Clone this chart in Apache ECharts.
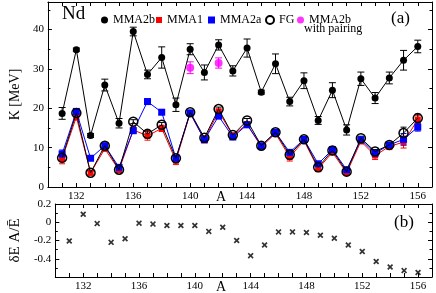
<!DOCTYPE html>
<html><head><meta charset="utf-8">
<script src="https://cdn.jsdelivr.net/npm/echarts@6/dist/echarts.min.js"></script>
<style>html,body{margin:0;padding:0;background:#fff}#c{width:436px;height:293px}</style>
</head><body><div id="c"></div>
<script>
const massA = [131,132,133,134,135,136,137,138,139,140,141,142,143,144,145,146,147,148,149,150,151,152,153,154,155,156];
const mma2b = [18.7,34.9,13.1,25.9,16.2,39.5,28.6,32.9,20.9,35.0,29.1,36.1,29.5,35.3,24.1,31.3,21.7,27.0,16.9,24.6,14.5,27.5,22.6,27.7,32.2,35.7];
const mma2bErr = [1.5,0.4,0.5,1.5,1.2,1.1,1.1,2.7,1.7,1.4,1.9,1.3,1.3,2.3,0.5,2.5,1.1,2.0,1.0,1.9,1.3,1.7,1.4,1.5,2.5,1.6];
const mma1 = [7.2,17.8,3.6,9.7,4.3,14.5,13.0,14.9,6.7,18.8,12.0,19.2,13.1,16.0,10.2,13.6,7.6,11.8,4.6,8.8,3.6,11.6,8.0,10.3,11.4,17.1];
const mma1Err = [1.3,0.8,0.5,0.5,0.6,0.7,1.1,0.8,1.0,0.5,0.8,0.6,0.5,0.6,0.6,0.5,1.0,0.6,0.7,0.6,0.6,0.6,1.0,0.8,1.5,1.0];
const mma2a = [8.4,19.2,7.3,10.5,5.0,14.3,21.7,19.0,7.3,18.8,12.0,18.0,12.7,15.8,10.5,13.9,8.8,12.1,5.9,9.5,4.4,12.0,8.6,10.7,12.1,15.2];
const mma2aErr = [1.0,0.5,0.5,0.5,0.5,0.5,0.7,0.6,0.5,0.5,0.5,0.5,0.5,0.5,0.5,0.5,0.5,0.5,0.5,0.5,0.5,0.5,0.8,0.5,1.5,1.0];
const fg = [7.4,18.8,3.6,10.5,4.4,16.6,13.5,15.8,7.3,19.0,12.5,19.8,13.2,16.9,10.5,13.9,8.2,12.1,5.0,9.3,3.9,12.4,9.0,10.7,13.7,17.5];
const fgErr = [0.5,0.5,0.5,0.5,0.5,0.5,0.8,0.6,0.5,0.5,0.5,0.5,0.5,0.5,0.5,0.5,0.5,0.5,0.5,0.5,0.5,0.5,0.5,0.5,1.5,1.0];
const pairA = [140,142];
const pairVals = [30.3,31.5];
const pairErr = [1.5,1.3];
const deltaE = [-0.205,0.088,-0.015,-0.22,-0.18,-0.01,-0.02,-0.035,-0.035,-0.035,-0.10,-0.055,-0.2,-0.366,-0.25,-0.106,-0.106,-0.113,-0.143,-0.176,-0.25,-0.32,-0.43,-0.49,-0.53,-0.55];
const xTicks = [132,136,140,144,148,152,156];
const kTicks = [0,10,20,30,40];
const dTicks = [0.2,0,-0.2,-0.4];

const FONT = 'Liberation Serif';
const chart = echarts.init(document.getElementById('c'), null, {renderer:'canvas'});

function pairs(xs, ys){ return xs.map((x,i)=>[x, ys[i]]); }
function triples(xs, ys, es){ return xs.map((x,i)=>[x, ys[i], es[i]]); }
function errSeries(xs, ys, es, color, hw){
  return {
    type:'custom', xAxisIndex:0, yAxisIndex:0, silent:true, z:1,
    data: triples(xs, ys, es),
    encode:{x:0, y:1},
    renderItem:function(params, api){
      const x = api.value(0), y = api.value(1), e = api.value(2);
      const t = api.coord([x, y+e]), b = api.coord([x, y-e]);
      const st = {stroke:color, lineWidth:1};
      return {type:'group', children:[
        {type:'line', shape:{x1:t[0],y1:t[1],x2:b[0],y2:b[1]}, style:st},
        {type:'line', shape:{x1:t[0]-hw,y1:t[1],x2:t[0]+hw,y2:t[1]}, style:st},
        {type:'line', shape:{x1:b[0]-hw,y1:b[1],x2:b[0]+hw,y2:b[1]}, style:st}
      ]};
    }
  };
}

const axisCommon = {
  axisLine:{show:true, onZero:false, lineStyle:{color:'#000', width:1}},
  axisTick:{show:true, inside:true, length:4, lineStyle:{color:'#000', width:1}},
  splitLine:{show:false},
  axisLabel:{color:'#000', fontFamily:FONT, fontSize:11, margin:4}
};
function xAx(grid, pos, labels){
  return Object.assign({}, axisCommon, {
    type:'value', gridIndex:grid, position:pos, min:130, max:157, interval:1,
    axisLabel:Object.assign({}, axisCommon.axisLabel, {show:labels, formatter:v=> xTicks.indexOf(v)>=0 ? String(v) : ''})
  });
}
const xCross = 'path://M0,2L2,0L5,3L8,0L10,2L7,5L10,8L8,10L5,7L2,10L0,8L3,5Z';

const option = {
  animation:false,
  backgroundColor:'#fff',
  textStyle:{fontFamily:FONT},
  grid:[
    {left:43, top:2, width:389, height:185},
    {left:43, top:204, width:389, height:73}
  ],
  xAxis:[ xAx(0,'bottom',true), xAx(0,'top',false), xAx(1,'bottom',true), xAx(1,'top',false) ],
  yAxis:[
    Object.assign({}, axisCommon, {type:'value', gridIndex:0, position:'left', min:0, max:47, interval:10,
      minorTick:{show:true, splitNumber:2, length:2.5, lineStyle:{color:'#000'}},
      name:'K [MeV]', nameLocation:'middle', nameGap:18, nameRotate:90,
      nameTextStyle:{fontFamily:FONT, fontSize:14, color:'#000'},
      axisLabel:Object.assign({}, axisCommon.axisLabel, {formatter:v=> kTicks.indexOf(v)>=0 ? String(v) : ''})}),
    Object.assign({}, axisCommon, {type:'value', gridIndex:0, position:'right', min:0, max:47, interval:10,
      minorTick:{show:true, splitNumber:2, length:2.5, lineStyle:{color:'#000'}},
      axisLabel:{show:false}}),
    Object.assign({}, axisCommon, {type:'value', gridIndex:1, position:'left', min:-0.6, max:0.2, interval:0.2,
      minorTick:{show:true, splitNumber:2, length:2.5, lineStyle:{color:'#000'}},
      name:'δE A/Ē', nameLocation:'middle', nameGap:21, nameRotate:90,
      nameTextStyle:{fontFamily:FONT, fontSize:15, color:'#000'},
      axisLabel:Object.assign({}, axisCommon.axisLabel, {formatter:v=>{
        for (const t of dTicks){ if (Math.abs(v-t)<1e-6) return t===0 ? '0' : t.toFixed(1); }
        return '';
      }})}),
    Object.assign({}, axisCommon, {type:'value', gridIndex:1, position:'right', min:-0.6, max:0.2, interval:0.2,
      minorTick:{show:true, splitNumber:2, length:2.5, lineStyle:{color:'#000'}},
      axisLabel:{show:false}})
  ],
  legend:[
    {left:96, top:9, itemWidth:7, itemHeight:7, data:[{name:'MMA2b', icon:'circle'}], textStyle:{fontFamily:FONT, fontSize:12, color:'#000'}},
    {left:151, top:9, itemWidth:6, itemHeight:6, data:[{name:'MMA1', icon:'rect'}], textStyle:{fontFamily:FONT, fontSize:12, color:'#000'}},
    {left:203, top:9, itemWidth:7, itemHeight:7, data:[{name:'MMA2a', icon:'rect'}], textStyle:{fontFamily:FONT, fontSize:12, color:'#000'}},
    {left:260, top:9, itemWidth:8, itemHeight:8, data:[{name:'FG', icon:'circle'}], textStyle:{fontFamily:FONT, fontSize:12, color:'#000'}},
    {left:292, top:9, itemWidth:7, itemHeight:7, data:[{name:'MMA2b with pairing', icon:'circle'}], formatter:()=> 'MMA2b', textStyle:{fontFamily:FONT, fontSize:12, color:'#000'}}
  ],
  graphic:[
    {type:'text', left:62, top:5, style:{text:'Nd', font:'19px "Liberation Serif"', fill:'#000'}},
    {type:'text', left:304, top:23, style:{text:'with pairing', font:'12px "Liberation Serif"', fill:'#000'}},
    {type:'text', left:391, top:10, style:{text:'(a)', font:'17px "Liberation Serif"', fill:'#000'}},
    {type:'text', left:394, top:214, style:{text:'(b)', font:'17px "Liberation Serif"', fill:'#000'}},
    {type:'text', left:216, top:190, style:{text:'A', font:'14px "Liberation Serif"', fill:'#000'}},
    {type:'text', left:216, top:280, style:{text:'A', font:'14px "Liberation Serif"', fill:'#000'}}
  ],
  series:[
    errSeries(massA, mma1, mma1Err, '#ff0000', 3),
    {name:'MMA1', type:'line', xAxisIndex:0, yAxisIndex:0, z:2, data:pairs(massA, mma1),
      symbol:'rect', symbolSize:6, itemStyle:{color:'#ff0000'}, lineStyle:{color:'#ff0000', width:1}},
    errSeries(massA, mma2a, mma2aErr, '#0000ff', 3),
    {name:'MMA2a', type:'line', xAxisIndex:0, yAxisIndex:0, z:3, data:pairs(massA, mma2a),
      symbol:'rect', symbolSize:7, itemStyle:{color:'#0000ff'}, lineStyle:{color:'#0000ff', width:1}},
    errSeries(massA, fg, fgErr, '#000000', 3),
    {name:'FG', type:'line', xAxisIndex:0, yAxisIndex:0, z:4, data:pairs(massA, fg),
      symbol:'circle', symbolSize:9, itemStyle:{color:'rgba(0,0,0,0)', borderColor:'#000', borderWidth:1.5},
      lineStyle:{color:'#000', width:1}},
    errSeries(massA, mma2b, mma2bErr, '#000000', 3.5),
    {name:'MMA2b', type:'line', xAxisIndex:0, yAxisIndex:0, z:5, data:pairs(massA, mma2b),
      symbol:'circle', symbolSize:7, itemStyle:{color:'#000'}, lineStyle:{color:'#000', width:1}},
    errSeries(pairA, pairVals, pairErr, '#ff00ff', 3.5),
    {name:'MMA2b with pairing', type:'scatter', xAxisIndex:0, yAxisIndex:0, z:6, data:pairs(pairA, pairVals),
      symbol:'circle', symbolSize:8, itemStyle:{color:'#ff00ff'}},
    {name:'dE', type:'scatter', xAxisIndex:2, yAxisIndex:2, data:pairs(massA, deltaE),
      symbol:xCross, symbolSize:6, itemStyle:{color:'#000'}}
  ]
};
chart.setOption(option);
</script>
</body></html>
